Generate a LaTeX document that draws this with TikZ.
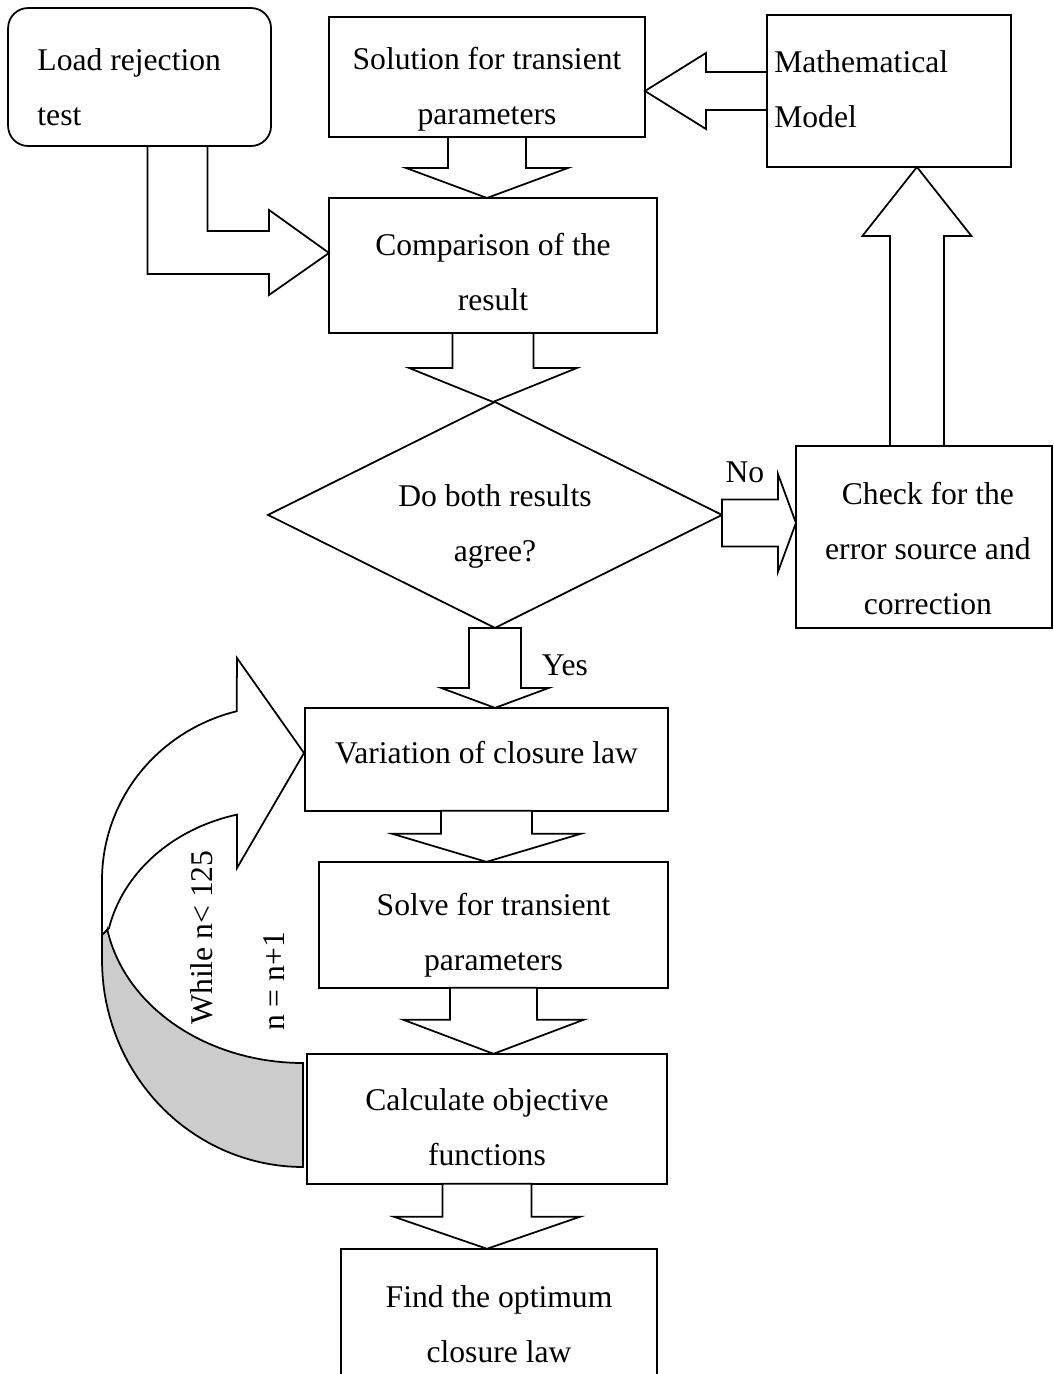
\documentclass[tikz,border=0pt]{standalone}
\usepackage{fontspec}
\setmainfont{Liberation Serif}
\usetikzlibrary{calc,positioning,shapes.geometric}
\definecolor{loopgray}{HTML}{CCCCCC}

% block arrow pointing down: from, to, shaft half width, head half width, head length
\newcommand{\blockdown}[5]{%
  \path (#1.south) coordinate (bs) (#1.south |- #2.north) coordinate (bt);
  \filldraw[blk] ($(bs)+(-#3,0)$) -- ($(bt)+(-#3,-#5)$) -- ($(bt)+(-#4,-#5)$) -- (bt)
    -- ($(bt)+(#4,-#5)$) -- ($(bt)+(#3,-#5)$) -- ($(bs)+(#3,0)$) -- cycle;
}

\begin{document}
\begin{tikzpicture}[
  x=0.02cm, y=-0.02cm,
  font=\fontsize{18}{31.3}\selectfont,
  box/.style={draw,line width=1pt,inner sep=0pt,outer sep=0pt},
  blk/.style={draw,fill=white,line width=1pt,line join=miter},
  txt/.style={inner sep=0pt,align=center}
]
\useasboundingbox (0,0) rectangle (1054,1374);

% boxes
\node[box,minimum width=6.32cm,minimum height=2.40cm] (sol) at (487,77) {};
\node[box,rounded corners=0.4cm,minimum width=5.26cm,minimum height=2.76cm,left=1.16cm of sol] (load) {};
\node[box,minimum width=4.88cm,minimum height=3.04cm,right=2.44cm of sol,yshift=-0.28cm] (math) {};
\node[box,minimum width=6.56cm,minimum height=2.70cm,below=1.22cm of sol,xshift=0.12cm] (comp) {};
\node[box,shape=diamond,minimum width=9.08cm,minimum height=4.52cm,below=1.38cm of comp,xshift=0.04cm] (dec) {};
\node[box,minimum width=5.12cm,minimum height=3.64cm,right=1.48cm of dec,yshift=-0.44cm] (check) {};
\node[box,minimum width=7.26cm,minimum height=2.06cm,below=1.60cm of dec,xshift=-0.17cm] (var) {};
\node[box,minimum width=6.98cm,minimum height=2.52cm,below=1.02cm of var,xshift=0.14cm] (solve) {};
\node[box,minimum width=7.20cm,minimum height=2.60cm,below=1.32cm of solve,xshift=-0.13cm] (calc) {};
\node[box,minimum width=6.32cm,minimum height=3.20cm,below=1.30cm of calc,xshift=0.24cm] (find) {};

% block arrows
\blockdown{sol}{comp}{39}{81}{30}
\blockdown{comp}{dec}{40.5}{84}{34}
\blockdown{dec}{var}{26}{54}{20}
\blockdown{var}{solve}{45.5}{94}{28}
\blockdown{solve}{calc}{43.5}{90}{34}
\blockdown{calc}{find}{44.5}{93}{32}

\coordinate (lt) at ($(comp.west)+(0,-12.5)$);
\filldraw[blk] ($(load.south)+(8,0)$) |- ($(lt)+(-60,21)$) -- ($(lt)+(-60,42)$) -- (lt)
  -- ($(lt)+(-60,-43)$) -- ($(lt)+(-60,-22)$) -| ($(load.south)+(68,0)$) -- cycle;

\path (math.west) coordinate (ms) (math.west -| sol.east) coordinate (mt);
\filldraw[blk] ($(ms)+(0,-19)$) -- ($(mt)+(61,-19)$) -- ($(mt)+(61,-38)$) -- (mt)
  -- ($(mt)+(61,38)$) -- ($(mt)+(61,19)$) -- ($(ms)+(0,19)$) -- cycle;

\coordinate (cs) at ($(check.north)+(-7,0)$);
\coordinate (ct) at (cs |- math.south);
\filldraw[blk] ($(cs)+(-27,0)$) -- ($(ct)+(-27,69)$) -- ($(ct)+(-54.5,69)$) -- (ct)
  -- ($(ct)+(54.5,69)$) -- ($(ct)+(27,69)$) -- ($(cs)+(27,0)$) -- cycle;

\coordinate (ds) at ($(dec.east)+(0,8)$);
\coordinate (dt) at (ds -| check.west);
\filldraw[blk] ($(ds)+(0,-23.5)$) -- ($(dt)+(-18,-23.5)$) -- ($(dt)+(-18,-49)$) -- (dt)
  -- ($(dt)+(-18,49)$) -- ($(dt)+(-18,23.5)$) -- ($(ds)+(0,23.5)$) -- cycle;

% loop arrow back to the variation step
\filldraw[blk] (102,935) -- (102,880)
  -- plot[domain=180:255.9,samples=40,variable=\t] ({280+178*cos(\t)},{880+174*sin(\t)})
  -- (237,658) -- (304,753) -- (237,868) -- (237,815)
  -- plot[domain=255.8:192.3,samples=40,variable=\t] ({280+175*cos(\t)},{960+150*sin(\t)})
  -- cycle;
\filldraw[blk,fill=loopgray] (107.4,930)
  -- plot[domain=169.4:90,samples=40,variable=\t] ({303+199*cos(\t)},{900+163*sin(\t)})
  -- (303,1167)
  -- plot[domain=90:180,samples=40,variable=\t] ({303+201*cos(\t)},{960+207*sin(\t)})
  -- (102,935) -- cycle;

% texts
\node[txt,align=left,anchor=west] (loadtxt) at ([xshift=0.58cm,yshift=-0.21cm]load.west) {Load rejection\\test};
\node[txt] (soltxt) at ([yshift=-0.25cm]sol.center) {Solution for transient\\parameters};
\node[txt,align=left,anchor=west] (mathtxt) at ([xshift=0.14cm,yshift=0.03cm]math.west) {Mathematical\\Model};
\node[txt] (comptxt) at ([yshift=-0.13cm]comp.center) {Comparison of the\\result};
\node[txt] (dectxt) at ([yshift=-0.24cm]dec.center) {Do both results\\agree?};
\node[txt] (checktxt) at ([xshift=0.08cm,yshift=-0.24cm]check.center) {Check for the\\error source and\\correction};
\node[txt] (vartxt) at ([yshift=0.13cm]var.center) {Variation of closure law};
\node[txt] (solvetxt) at ([yshift=-0.2cm]solve.center) {Solve for transient\\parameters};
\node[txt] (calctxt) at ([yshift=-0.16cm]calc.center) {Calculate objective\\functions};
\node[txt] (findtxt) at ([yshift=0.09cm]find.center) {Find the optimum\\closure law};
\node[txt] (yes) at ([xshift=1.4cm,yshift=-0.74cm]dec.south) {Yes};
\node[txt] (no) at ([xshift=0.46cm,yshift=0.86cm]dec.east) {No};
\node[txt,rotate=90] (while) at (202,937.5) {While n< 125};
\node[txt,rotate=90] (incr) at (274,981.5) {n = n+1};
\end{tikzpicture}
\end{document}
